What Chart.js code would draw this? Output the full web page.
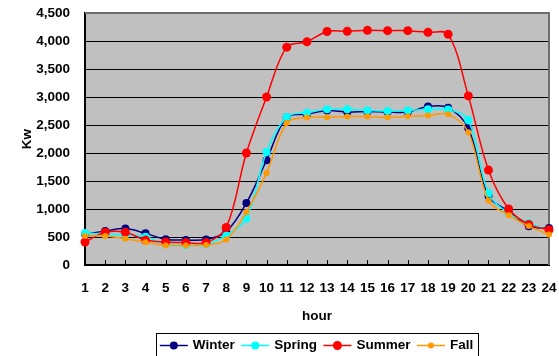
<!DOCTYPE html>
<html>
<head>
<meta charset="utf-8">
<script src="https://cdn.jsdelivr.net/npm/chart.js@4/dist/chart.umd.min.js"></script>
<style>
  html, body { margin: 0; padding: 0; background: #fff; }
  #wrap { width: 559px; height: 356px; }
</style>
</head>
<body>
<div id="wrap"><canvas id="c" width="559" height="356"></canvas></div>
<script>
// Hourly load profile (kW) by season
const hours = ['1','2','3','4','5','6','7','8','9','10','11','12','13','14','15','16','17','18','19','20','21','22','23','24'];
const winter = [550, 605, 650, 565, 460, 445, 455, 595, 1105, 1870, 2640, 2690, 2760, 2730, 2740, 2730, 2730, 2830, 2810, 2440, 1230, 960, 690, 660];
const spring = [570, 550, 540, 505, 380, 355, 370, 530, 830, 2020, 2645, 2720, 2780, 2780, 2760, 2750, 2760, 2780, 2775, 2590, 1280, 920, 750, 620];
const summer = [410, 585, 585, 445, 410, 400, 400, 670, 2000, 3000, 3890, 3985, 4170, 4175, 4190, 4185, 4185, 4155, 4120, 3020, 1695, 1000, 725, 630];
const fall   = [520, 520, 470, 405, 350, 350, 355, 455, 945, 1645, 2535, 2635, 2640, 2650, 2650, 2640, 2655, 2670, 2690, 2370, 1150, 890, 695, 545];
const seriesNames = ['Winter', 'Spring', 'Summer', 'Fall'];
const yTicks = [0, 500, 1000, 1500, 2000, 2500, 3000, 3500, 4000, 4500];

const FONT = '"Liberation Sans", Arial, Helvetica, sans-serif';
const fontBold = { family: FONT, size: 13.5, weight: 'bold' };

function series(label, data, color, radius, order) {
  return {
    label, data, order,
    borderColor: color,
    backgroundColor: color,
    pointBackgroundColor: color,
    pointBorderColor: color,
    pointRadius: radius,
    pointBorderWidth: 0,
    borderWidth: 1.5,
    tension: 0.35,
    clip: false
  };
}

// plot background, frame, inward category ticks and the boxed legend
const decorations = {
  id: 'decorations',
  beforeDraw(chart) {
    const { ctx, chartArea: a } = chart;
    ctx.save();
    ctx.fillStyle = '#ffffff';
    ctx.fillRect(0, 0, chart.width, chart.height);
    ctx.fillStyle = '#c0c0c0';
    ctx.fillRect(a.left, a.top, a.right - a.left, a.bottom - a.top);
    ctx.restore();
  },
  beforeDatasetsDraw(chart) {
    const { ctx, chartArea: a } = chart;
    const xs = chart.scales.x;
    ctx.save();
    ctx.strokeStyle = '#6e6e6e';
    ctx.lineWidth = 2;
    ctx.beginPath();
    ctx.moveTo(a.left, a.top);
    ctx.lineTo(a.right, a.top);
    ctx.lineTo(a.right, a.bottom);
    ctx.stroke();
    ctx.strokeStyle = '#000';
    ctx.lineWidth = 1;
    ctx.beginPath();
    for (let i = 1; i < hours.length - 1; i++) {
      const px = Math.round(xs.getPixelForTick(i)) + 0.5;
      ctx.moveTo(px, a.bottom);
      ctx.lineTo(px, a.bottom - 5);
    }
    ctx.stroke();
    ctx.restore();
  },
  afterDraw(chart) {
    const ctx = chart.ctx;
    ctx.save();
    ctx.font = 'bold 13.5px ' + FONT;
    ctx.textBaseline = 'middle';
    const lineLen = 28, gapText = 5, gapItem = 6.5;
    const items = chart.data.datasets.map(ds => ({
      label: ds.label, color: ds.borderColor, r: ds.pointRadius,
      w: ctx.measureText(ds.label).width
    }));
    const total = items.reduce((s, it) => s + lineLen + gapText + it.w, 0) + gapItem * (items.length - 1);
    let x = 316.5 - total / 2;
    const y = 345.5;
    ctx.strokeStyle = '#000';
    ctx.lineWidth = 1;
    ctx.strokeRect(Math.round(x - 3.5) + 0.5, 333.5, Math.round(total + 9), 40);
    items.forEach(it => {
      ctx.strokeStyle = it.color;
      ctx.lineWidth = 1.5;
      ctx.beginPath();
      ctx.moveTo(x, y);
      ctx.lineTo(x + lineLen, y);
      ctx.stroke();
      ctx.fillStyle = it.color;
      ctx.beginPath();
      ctx.arc(x + lineLen / 2, y, it.r, 0, Math.PI * 2);
      ctx.fill();
      ctx.fillStyle = '#000';
      ctx.textAlign = 'left';
      ctx.fillText(it.label, x + lineLen + gapText, y);
      x += lineLen + gapText + it.w + gapItem;
    });
    ctx.restore();
  }
};

new Chart(document.getElementById('c'), {
  type: 'line',
  data: {
    labels: hours,
    datasets: [
      series(seriesNames[0], winter, '#000080', 4, 4),
      series(seriesNames[1], spring, '#00ffff', 4, 3),
      series(seriesNames[2], summer, '#ff0000', 4.5, 2),
      series(seriesNames[3], fall,   '#ff9900', 3, 1)
    ]
  },
  options: {
    responsive: false,
    animation: false,
    devicePixelRatio: 1,
    layout: { padding: { top: 13, right: 10, left: 0, bottom: 29 } },
    plugins: {
      legend: { display: false },
      tooltip: { enabled: false }
    },
    scales: {
      x: {
        type: 'category',
        offset: false,
        grid: { display: false, drawTicks: false },
        border: { display: true, color: '#000', width: 2 },
        ticks: { color: '#000', font: fontBold, padding: 15, autoSkip: false, maxRotation: 0 },
        title: { display: true, text: 'hour', color: '#000', font: fontBold, padding: { top: 0, bottom: 3 } },
        afterFit(s) { s.height = 62; s.paddingLeft = 0; s.paddingRight = 0; }
      },
      y: {
        min: 0,
        max: 4500,
        afterBuildTicks(s) { s.ticks = yTicks.map(v => ({ value: v })); },
        grid: { color: '#000', lineWidth: 1, drawTicks: false },
        border: { display: true, color: '#000', width: 2 },
        ticks: {
          color: '#000', font: fontBold, padding: 15,
          callback: v => v.toLocaleString('en-US')
        },
        title: { display: true, text: 'Kw', color: '#000', font: fontBold, padding: { top: 19, bottom: 0 } },
        afterFit(s) { s.width = 85; s.paddingTop = 0; s.paddingBottom = 0; }
      }
    }
  },
  plugins: [decorations]
});
</script>
</body>
</html>
